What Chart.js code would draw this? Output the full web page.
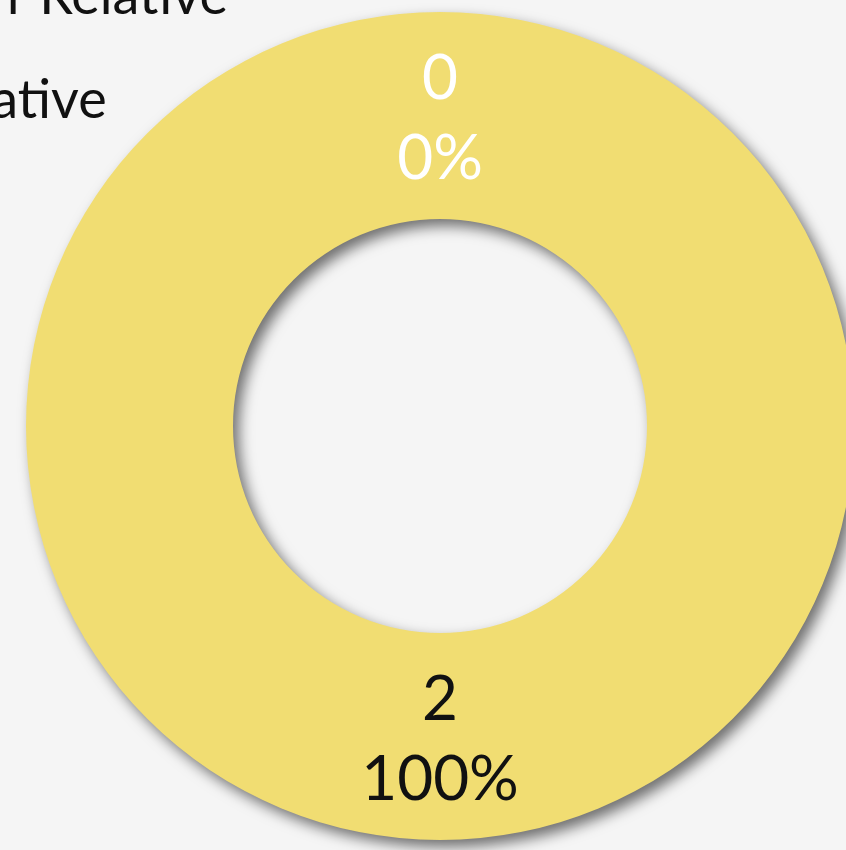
<!DOCTYPE html>
<html>
<head>
<meta charset="utf-8">
<script src="https://cdn.jsdelivr.net/npm/chart.js@4/dist/chart.umd.min.js"></script>
<style>
  html, body { margin: 0; padding: 0; background: #f5f5f5; }
  #wrap { position: relative; width: 846px; height: 850px; overflow: hidden; background: #f5f5f5; }
  #relChart { position: absolute; left: -219px; top: -80px; }
</style>
</head>
<body>
<div id="wrap">
  <canvas id="relChart" width="1318" height="1012"></canvas>
</div>
<script>
// Relationship breakdown
const categories = ['Non-Relative', 'Relative'];
const counts = [0, 2];
const sliceColors = ['#4f6fa8', '#f1dd72'];
const labelColors = ['#ffffff', '#111111'];

const FONT = 'Lato, "Open Sans", sans-serif';

// soft drop shadow under the ring
const ringShadow = {
  id: 'ringShadow',
  beforeDatasetsDraw(chart) {
    const ctx = chart.ctx;
    ctx.save();
    ctx.shadowColor = 'rgba(0, 0, 0, 0.55)';
    ctx.shadowBlur = 14;
    ctx.shadowOffsetX = 6;
    ctx.shadowOffsetY = 7;
  },
  afterDatasetsDraw(chart) {
    chart.ctx.restore();
  }
};

// value + percentage written in the middle of each slice
const sliceLabels = {
  id: 'sliceLabels',
  afterDraw(chart) {
    const ctx = chart.ctx;
    const data = chart.data.datasets[0].data;
    const total = data.reduce((a, b) => a + b, 0);
    chart.getDatasetMeta(0).data.forEach((arc, i) => {
      const pos = arc.tooltipPosition();
      const pct = total ? Math.round(data[i] / total * 100) : 0;
      ctx.save();
      ctx.font = '62px ' + FONT;
      ctx.fillStyle = labelColors[i];
      ctx.textAlign = 'center';
      ctx.textBaseline = 'middle';
      ctx.fillText(String(data[i]), pos.x, pos.y - 37);
      ctx.fillText(pct + '%', pos.x, pos.y + 43);
      ctx.restore();
    });
  }
};

new Chart(document.getElementById('relChart'), {
  type: 'doughnut',
  data: {
    labels: categories,
    datasets: [{
      data: counts,
      backgroundColor: sliceColors,
      borderWidth: 0,
      radius: 414,
      cutout: '50%',
      clip: false
    }]
  },
  options: {
    responsive: false,
    devicePixelRatio: 1,
    animation: false,
    layout: { padding: 0 },
    plugins: {
      legend: {
        position: 'chartArea',
        align: 'start',
        labels: {
          boxWidth: 60,
          padding: 50,
          color: '#111111',
          font: { family: FONT, size: 54 }
        }
      },
      tooltip: { enabled: false }
    }
  },
  plugins: [ringShadow, sliceLabels]
});
</script>
</body>
</html>
